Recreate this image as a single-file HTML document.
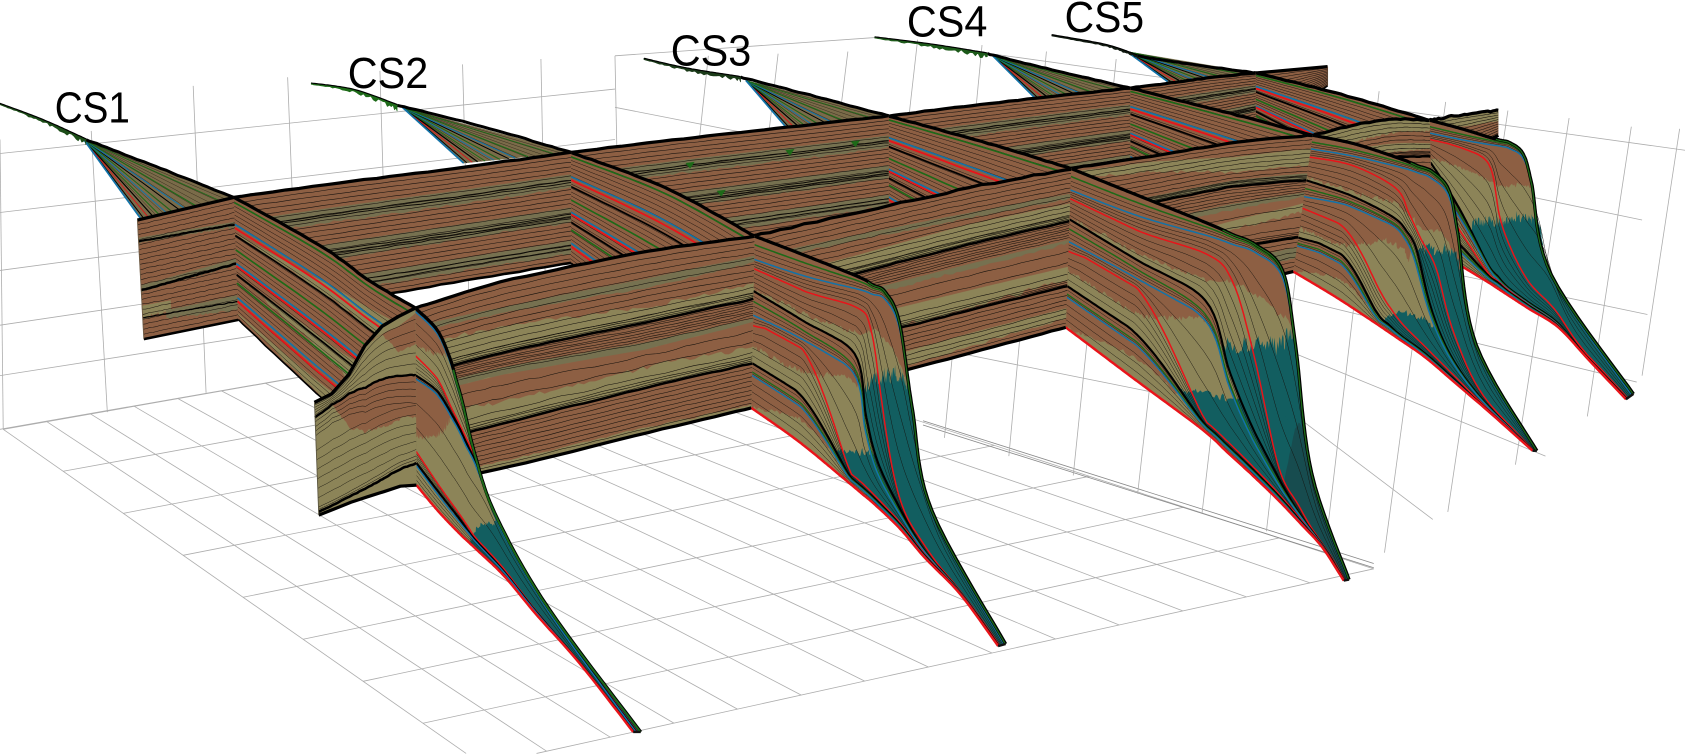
<!DOCTYPE html>
<html>
<head>
<meta charset="utf-8">
<style>
html,body{margin:0;padding:0;background:#fff;width:1685px;height:756px;overflow:hidden}
svg{display:block;position:absolute;left:0;top:0;overflow:hidden}
text{font-family:"Liberation Sans",sans-serif;font-size:41px;fill:#000}
</style>
</head>
<body>
<svg id="s" xmlns="http://www.w3.org/2000/svg" width="1685" height="756" viewBox="0 0 1570 704.4"><g id="g"></g>
<text x="51" y="114" textLength="70" lengthAdjust="spacingAndGlyphs">CS1</text>
<text x="324" y="82" textLength="75" lengthAdjust="spacingAndGlyphs">CS2</text>
<text x="625" y="61" textLength="75" lengthAdjust="spacingAndGlyphs">CS3</text>
<text x="845" y="34" textLength="75" lengthAdjust="spacingAndGlyphs">CS4</text>
<text x="992" y="30" textLength="74" lengthAdjust="spacingAndGlyphs">CS5</text>
</svg>
<script>
var BROWN='#8d5f43',OLIVE='#8c8458',DARK='#767150',TEAL='#125e60',DTEAL='#174c4f',GREEN='#1d6a18',BLUE='#1273a9',RED='#e8141a',BL='#000';
var out='';
function rnd(i){var x=Math.sin(i*12.9898+4.1)*43758.5453;return x-Math.floor(x);}
function nz(x){var a=Math.floor(x),b=a+1,t=x-a;return rnd(a)*(1-t)+rnd(b)*t-.5;}
function lin(arr,u,U){
  var n=arr.length;if(n==1)return arr[0];
  if(!U){var p=Math.min(u*(n-1),n-1.0001),i=Math.floor(p);return arr[i]+(arr[i+1]-arr[i])*(p-i);}
  for(var j=0;j<n-2&&u>U[j+1];j++);
  var t=(u-U[j])/(U[j+1]-U[j]);t=Math.max(0,Math.min(1,t));
  var a=arr[Math.max(j-1,0)],b=arr[j],c=arr[j+1],d=arr[Math.min(j+2,n-1)];
  var v=.5*(2*b+(c-a)*t+(2*a-5*b+4*c-d)*t*t+(3*b-a-3*c+d)*t*t*t);
  return Math.max(Math.min(b,c),Math.min(Math.max(b,c),v));
}
function cr(P,u,U){
  var n=P.length;
  if(n==2)return [P[0][0]+(P[1][0]-P[0][0])*u,P[0][1]+(P[1][1]-P[0][1])*u];
  var j=0;
  if(U){for(j=0;j<n-2&&u>U[j+1];j++);}else{j=Math.min(Math.floor(u*(n-1)),n-2);}
  var t=U?(u-U[j])/(U[j+1]-U[j]):(u*(n-1)-j);
  var a=P[Math.max(j-1,0)],b=P[j],c=P[j+1],d=P[Math.min(j+2,n-1)],r=[];
  for(var k=0;k<2;k++){
    r[k]=.5*(2*b[k]+(c[k]-a[k])*t+(2*a[k]-5*b[k]+4*c[k]-d[k])*t*t+(3*b[k]-a[k]-3*c[k]+d[k])*t*t*t);
  }
  return r;
}
function pt(p,u,f){
  var a=cr(p.T,u,p.U),b=cr(p.B,u,p.U);
  return [a[0]+(b[0]-a[0])*f,a[1]+(b[1]-a[1])*f];
}
function F(p,arr,u){return typeof arr=='number'?arr:lin(arr,u,arr.length==(p.U||[]).length?p.U:null);}
function fmt(q){return q[0].toFixed(1)+' '+q[1].toFixed(1);}
var seed=1;
function band(p,f0,f1,col,amp,N,u0,u1){
  N=N||90;amp=amp||0;u0=u0||0;if(u1===undefined)u1=1;var s=seed+=7.3,a=[],b=[];
  for(var i=0;i<=N;i++){
    var u=u0+(u1-u0)*i/N;
    var v0=F(p,f0,u),v1=F(p,f1,u)+amp*(nz(s+i*.9)+.6*nz(s+i*2.3+9));
    v1=Math.max(v0,Math.min(1,v1));
    a.push(fmt(pt(p,u,v0)));b.push(fmt(pt(p,u,v1)));
  }
  out+='<path d="M'+a.join('L')+'L'+b.reverse().join('L')+'Z" fill="'+col+'" stroke="'+col+'" stroke-width=".3"/>';
}
function tband(p,f0,f1,col,amp,N,u0,u1){
  var s=seed+=5.7,a=[],b=[];
  for(var i=0;i<=N;i++){
    var u=u0+(u1-u0)*i/N;
    var v1=F(p,f1,u),v0=F(p,f0,u)+amp*(rnd(s+i)-.5+.7*nz(s+i*.35));
    v0=Math.max(0,Math.min(v1,v0));
    a.push(fmt(pt(p,u,v0)));b.push(fmt(pt(p,u,v1)));
  }
  out+='<path d="M'+a.join('L')+'L'+b.reverse().join('L')+'Z" fill="'+col+'"/>';
}
function line(p,f,col,w,amp,N,u0,u1){
  N=N||60;amp=amp||0;u0=u0||0;if(u1===undefined)u1=1;var s=seed+=3.1,a=[];
  for(var i=0;i<=N;i++){
    var u=u0+(u1-u0)*i/N;
    var v=F(p,f,u)+amp*nz(s+i*.8);
    a.push(fmt(pt(p,u,Math.max(0,Math.min(1,v)))));
  }
  out+='<path d="M'+a.join('L')+'" fill="none" stroke="'+col+'" stroke-width="'+w+'" stroke-linejoin="round"/>';
}
function poly(P,col,w,fill){
  out+='<path d="M'+P.map(fmt).join('L')+(fill?'Z':'')+'" fill="'+(fill||'none')+'" stroke="'+col+'" stroke-width="'+w+'" stroke-linejoin="round"/>';
}
/* ---------- grid ---------- */
var GR='#adadad';
function gl(a,b,c){
  a=a.slice();b=b.slice();var M=702;
  if(a[1]>M&&b[1]>M)return;
  if(a[1]>M){var t=(M-b[1])/(a[1]-b[1]);a=[b[0]+(a[0]-b[0])*t,M];}
  if(b[1]>M){var t2=(M-a[1])/(b[1]-a[1]);b=[a[0]+(b[0]-a[0])*t2,M];}
  out+='<line x1="'+a[0].toFixed(1)+'" y1="'+a[1].toFixed(1)+'" x2="'+b[0].toFixed(1)+'" y2="'+b[1].toFixed(1)+'" stroke="'+(c||GR)+'" stroke-width=".75"/>';
}
function mix(a,b,t){return [a[0]+(b[0]-a[0])*t,a[1]+(b[1]-a[1])*t];}
(function(){
  var i;
  var y0=[143,198,252,303,350,400],y1=[83,130,175,218,260,300];
  for(i=0;i<6;i++)gl([0,y0[i]],[573,y1[i]]);
  var vx=[[3,400,0,130],[85,122,100,384],[180,80,192,366],[268,72,279,349],[354,66,362,334],[431,60,438,320],[504,55,509,310],[573,52,578,298]];
  vx.forEach(function(v){gl([v[0],v[1]],[v[2],v[3]]);});
  gl([573,52],[815,35]);
  var A=[3,400],B=[573,300],C=[1280,530],D=[450,713];
  var n1=14,n2=8;
  for(i=0;i<=n1;i++){gl(mix(A,B,i/n1),mix(D,C,i/n1));}
  for(i=0;i<=n2;i++){var t=i/n2;gl(mix(A,D,t),mix(B,C,t));}
  gl([860,392],[1280,525],'#888');gl([860,396],[1280,529],'#888');
  gl([815,35],[1570,140]);
  gl([573,100],[1200,223]);gl([1200,223],[1535,293]);
  gl([573,150],[1200,277]);gl([1200,277],[1525,356]);
  gl([573,200],[1208,330]);gl([1208,330],[1440,425]);
  gl([700,290],[1216,394]);gl([1216,394],[1335,484]);
  gl([1410,180],[1530,205]);
  var V=[[1530,350,1565,120],[1479,388,1520,118],[1412,433,1462,110],[1349,477,1405,103],[1290,515,1347,95],[1235,510,1285,85],[1180,495,1228,75],[1120,478,1168,68],[1060,460,1105,60],[1000,443,1040,55],[940,425,975,48],[880,408,915,42],[815,390,855,37],[750,370,790,48],[690,350,725,50],[630,330,660,52]];
  V.forEach(function(v){gl([v[0],v[1]],[v[2],v[3]]);});
})();
/* ---------- back wedges ---------- */
function gl2(a,b,c,w){out+='<line x1="'+a[0]+'" y1="'+a[1]+'" x2="'+b[0]+'" y2="'+b[1]+'" stroke="'+c+'" stroke-width="'+w+'"/>';}
function sample(P,a0){var a=[],A0=a0===undefined?.8:a0;for(var i=0;i<=28;i++){var q=cr(P,i/28);a.push([q[0],q[1]+A0*nz(i*1.7+P[0][0])]);}return a;}
function wedge(L,apex,e0,e1,tc,sd,tw){
  poly([apex,L[L.length-1],e1,e0],'#6e6a46',.3,'#7a6b49');
  for(var i=1;i<12;i++)gl2(apex,mix(e0,e1,i/12),'#211a10',.35);
  var sets=[[.03,BL,.9],[.08,RED,.8],[.13,BL,1.1],[.2,GREEN,.9],[.28,BLUE,.9],[.34,GREEN,.9],[.42,BL,.9],[.48,BLUE,1],[.6,GREEN,1],[.85,GREEN,.8]];
  sets.forEach(function(s){gl2(apex,mix(e0,e1,s[0]),s[1],s[2]);});
  gl2(apex,e0,BLUE,1.6);
  poly(sample(L.slice(2)),'#000',2.8);
  var tail=L.slice(0,3),pts=[],pts2=[];
  for(i=0;i<=40;i++){
    var t=i/40,q=cr(tail,t),w=.5+tw*rnd(i+sd)*t;
    pts.push([q[0],q[1]-.7]);pts2.push([q[0],q[1]+w]);
  }
  poly(pts.concat(pts2.reverse()),tc,.6,tc);
  poly(pts,'#000',1.1);
}
wedge([[0,97],[40,112],[80,130],[150,157],[218,184]],[78,130],[132,205],[218,184],'#1c4d18',11,5);
wedge([[290,78],[330,84],[370,98],[450,118],[532,142]],[375,100],[432,152],[532,142],GREEN,23,5);
wedge([[600,55],[640,64],[690,72],[760,90],[828,108]],[695,75],[738,125],[828,108],'#1a3a18',37,4);
wedge([[815,35],[870,42],[920,50],[980,65],[1053,82]],[925,52],[965,92],[1053,82],'#1d5a1a',41,5);
wedge([[980,33],[1030,42],[1060,52],[1110,60],[1170,68]],[1050,48],[1088,76],[1170,68],'#101a10',53,2);
/* ---------- rear fence & mid panels ---------- */
function rear(T,B){
  var p={T:T,B:B};
  band(p,0,1,BROWN);
  band(p,.2,.32,DARK,.022);
  band(p,.5,.63,DARK,.022);
  band(p,.8,.91,DARK,.022);
  for(var i=1;i<24;i++)line(p,i/24+.004,'#1a1410',.55,.006,40);
  [.25,.27,.56,.58,.6,.84,.87].forEach(function(f){line(p,f,'#0c0a06',.85,.01,40);});
  poly(sample(T),'#000',3);
  poly(sample(B),'#000',2.4);
  return p;
}
var midKeys=[[.04,GREEN,1.5],[.22,BLUE,1.5],[.25,RED,1.7],[.31,BL,1.6],[.43,GREEN,1.5],[.54,BLUE,1.5],[.56,RED,1.7],[.63,BL,1.6],[.7,GREEN,1.5],[.82,BLUE,1.5],[.85,RED,1.7]];
function mid(T,B,olive){
  var p={T:T,B:B};
  band(p,0,1,BROWN);
  if(olive){
    band(p,[.3,.2,.13],[.3,.3,.3],OLIVE,.02,60);
    band(p,[.63,.6,.5],[.63,.72,.8],OLIVE,.03,60);
    band(p,[.95,.9,.85],[.95,1,1],OLIVE,.02,60);
  }
  for(var i=1;i<28;i++)line(p,i/28,'#1a1410',.45,.003,24);
  midKeys.forEach(function(k){line(p,k[0],k[1],k[2],.002,24);});
  poly(sample(T),'#000',3);
  poly(sample(B),'#000',1.5);
}
var RS=[
 [[[1170,68],[1237,62]],[[1170,125],[1237,80]]],
 [[[1053,82],[1092,77],[1131,72],[1170,68]],[[1053,160],[1092,148],[1131,137],[1170,125]]],
 [[[828,108],[900,99],[980,90],[1053,82]],[[828,200],[900,187],[980,172],[1053,160]]],
 [[[532,142],[630,130],[730,119],[828,108]],[[532,245],[630,230],[730,215],[828,200]]],
 [[[218,184],[320,170],[430,156],[532,142]],[[222,298],[325,280],[430,262],[532,245]]]
];
var MS=[
 [[[1170,68],[1250,88],[1332,112]],[[1170,125],[1250,178],[1335,232]],false],
 [[[1053,82],[1140,104],[1223,126]],[[1053,160],[1135,208],[1205,253]],false],
 [[[828,108],[915,132],[998,157]],[[828,200],[910,255],[993,305]],false],
 [[[532,142],[620,175],[703,220]],[[532,245],[620,315],[700,380]],false],
 [[[218,184],[300,230],[345,262],[387,287]],[[222,298],[290,362],[340,405],[388,452]],true]
];
(function(){
  var p={T:RS[0][0],B:RS[0][1]};
  band(p,0,1,BROWN);
  for(var i=1;i<14;i++)line(p,i/14,'#1a1410',.5,.01,20);
  poly(RS[0][0],'#000',3);poly(RS[0][1],'#000',1.5);
  poly([[1237,62],[1237,80]],'#5a4230',.8);
})();
mid(MS[0][0],MS[0][1],false);
for(var ii=1;ii<5;ii++){
  rear(RS[ii][0],RS[ii][1]);
  if(ii==3){[[736,142],[797,134],[672,180],[643,154]].forEach(function(g){poly([[g[0]-4,g[1]-2],[g[0]+4,g[1]-3],[g[0],g[1]+3]],GREEN,.3,GREEN);});}
  if(ii<4)mid(MS[ii][0],MS[ii][1],MS[ii][2]);
}
(function(){
  var T=[[128,205],[218,184]],B=[[134,316],[222,298]],p={T:T,B:B};
  band(p,0,1,BROWN);
  band(p,[.15,.2],[.19,.24],DARK,.015);
  band(p,[.55,.5],[.6,.55],DARK,.015);
  band(p,[.72,.74],[.82,.8],OLIVE,.04,40,0,.3);
  band(p,[.8,.8],[.85,.92],DARK,.025,40,.25,1);
  for(var i=1;i<24;i++)line(p,i/24,'#1a1410',.5,.008,30);
  line(p,[.18,.22],BL,2,.006);line(p,[.59,.54],BL,2.4,.006);line(p,[.82,.85],BL,1.2,.006);
  poly(T,'#000',3);poly(B,'#000',2.4);
  poly([[128,205],[134,316]],'#6d5a44',.8);
})();
mid(MS[4][0],MS[4][1],MS[4][2]);
/* ---------- front ---------- */
var U=[0,.25,.5,.58,.65,.75,.85,.93,1];
var KA={
 G1:[.05,.04,.02,.015,.012,.012,.012,.012,.1],
 B1:[.135,.11,.06,.045,.035,.03,.03,.05,.2],
 R1:[.19,.19,.15,.21,.47,.85,.91,.94,.8],
 K1:[.32,.35,.375,.63,.79,.9,.95,.96,.9],
 G2:[.38,.4,.44,.68,.83,.92,.955,.965,.92],
 B2:[.46,.45,.47,.7,.84,.93,.96,.97,.93],
 R2:[.52,.5,.93,.95,.96,.97,.975,.98,.93],
 K2:[.74,.75,.96,.97,.975,.98,.985,.99,.96],
 G3:[.79,.79,.97,.975,.98,.985,.99,.992,.97],
 B3:[.81,.81,.975,.98,.985,.99,.992,.995,.98]
};
var KB={
 G1:[.05,.04,.02,.015,.012,.012,.012,.012,.1],
 B1:[.1,.08,.05,.04,.04,.03,.03,.05,.2],
 R1:[.16,.14,.18,.29,.39,.49,.7,.85,.8],
 K1:[.33,.33,.35,.39,.48,.72,.87,.92,.9],
 G2:[.39,.37,.38,.42,.52,.74,.88,.93,.91],
 B2:[.45,.4,.4,.44,.54,.76,.89,.94,.92],
 R2:[.535,.55,.8,.87,.91,.945,.96,.97,.93],
 K2:[.75,.72,.93,.96,.975,.98,.985,.99,.96],
 G3:[.79,.76,.95,.97,.98,.985,.99,.992,.97],
 B3:[.81,.78,.96,.975,.985,.99,.992,.995,.98]
};
var KC={
 G1:[.05,.04,.02,.015,.012,.012,.012,.012,.1],
 B1:[.1,.08,.05,.04,.04,.03,.03,.05,.2],
 R1:[.15,.14,.19,.5,.66,.82,.88,.92,.8],
 K1:[.33,.6,.87,.92,.95,.96,.97,.98,.9],
 G2:[.39,.63,.88,.93,.955,.965,.975,.985,.92],
 B2:[.45,.66,.89,.94,.96,.97,.98,.988,.93],
 R2:[.535,.75,.93,.95,.965,.975,.985,.99,.94],
 K2:[.75,.85,.95,.96,.975,.98,.99,.992,.96],
 G3:[.79,.88,.96,.97,.98,.985,.992,.994,.97],
 B3:[.81,.9,.97,.975,.985,.99,.994,.996,.98]
};
var KD={
 G1:[.01,.01,.01,.01,.01,.012,.02,.02,.1],
 B1:[.02,.02,.025,.03,.03,.04,.06,.1,.2],
 R1:[.27,.27,.30,.27,.24,.12,.1,.2,.5],
 K1:[.38,.34,.335,.3,.28,.16,.16,.3,.6],
 G2:[.39,.35,.345,.31,.29,.17,.18,.32,.62],
 B2:[.40,.36,.36,.33,.31,.19,.2,.35,.65],
 R2:[.81,.85,.88,.9,.92,.92,.93,.95,.9],
 K2:[.875,.89,.91,.93,.94,.95,.95,.96,.92],
 G3:[.88,.9,.92,.935,.945,.955,.955,.965,.93],
 B3:[.89,.91,.93,.94,.95,.96,.96,.97,.95]
};
function ins(A){
  var a=A[2],b=A[3],t=.5333;
  return A.slice(0,3).concat([[a[0]+(b[0]-a[0])*t,a[1]+(b[1]-a[1])*t]],A.slice(3));
}
function front(T,B,o){
  T=ins(T);B=ins(B);
  var p={T:T,B:B,U:U},K=o.key;
  band(p,0,1,OLIVE);
  band(p,0,o.b1,BROWN,.03,130);
  if(o.b2)band(p,K.K1,o.b2,BROWN,.035,120,0,.62);
  if(o.b3)band(p,K.K2,o.b3,BROWN,.025,70,0,.5);
  if(o.t1)tband(p,o.t1,K.K1,TEAL,.07,170,.35,1);
  if(o.t2)tband(p,o.t2,K.K2,TEAL,.03,130,.35,1);
  if(o.t)tband(p,o.t,1,TEAL,.04,120,.4,1);
  if(!o.t)band(p,K.K2,1,TEAL,0,40,.65,1);
  if(o.dt)tband(p,o.dt,1,DTEAL,.015,40,.78,1);
  var order=[0,K.G1,K.B1,K.R1,K.K1,K.G2,K.B2,K.R2,K.K2,K.G3,K.B3,1];
  var cnt=[0,2,3,4,1,2,2,4,1,1,3];
  function mk(a,b,m){return U.map(function(u,i){var x=typeof a=='number'?a:a[i],y=typeof b=='number'?b:b[i];return x+(y-x)*m;});}
  for(var i=1;i<order.length-1;i++){
    var c=cnt[i];
    for(var j=1;j<=c;j++)line(p,mk(order[i],order[i+1],j/(c+1)),'#14110c',.42,.0015,70);
  }
  var C=[[GREEN,K.G1,1.4],[BLUE,K.B1,1.4],[RED,K.R1,1.4],[BL,K.K1,2],[GREEN,K.G2,1.3],[BLUE,K.B2,1.4],[RED,K.R2,1.4],[BL,K.K2,2],[GREEN,K.G3,1.2],[BLUE,K.B3,1.3]];
  var skip=o.skip||[];
  C.forEach(function(c,n){if(skip.indexOf(n)<0)line(p,c[1],c[0],c[2],0,110);});
  var a=[],m;for(m=0;m<=130;m++)a.push(cr(T,m/130,U));
  poly(a,'#000',3);
  var g=[];for(m=70;m<=130;m++){var q=cr(T,m/130,U);g.push([q[0]-.2,q[1]+.3]);}
  poly(g,GREEN,o.gw||1.2);
  var bb=[];for(m=0;m<=130;m++)bb.push(cr(B,m/130,U));
  poly(bb,RED,2.3);
  gl2(T[T.length-1],B[B.length-1],'#111',2.2);
}
function strike(T,B,base,bands,blacks,zones,tn){
  var p={T:T,B:B};
  band(p,0,1,base);
  bands.forEach(function(b){band(p,b[0],b[1],b[2],b[3]===undefined?.015:b[3],80);});
  (zones||[]).forEach(function(z){
    for(var j=1;j<=z[2];j++){
      var m=j/(z[2]+1),f=[];
      for(var k=0;k<=8;k++){var u=k/8,a=F(p,z[0],u),b=F(p,z[1],u);f.push(a+(b-a)*m);}
      line(p,f,'#14110c',.5,z[3]===undefined?.007:z[3],40);
    }
  });
  blacks.forEach(function(k){
    line(p,k,BL,2.4,.005,40);
    for(var j=1;j<=3;j++){line(p,k.map(function(x){return x-j*.012;}),'#0c0a06',.5,.005,30);}
  });
  poly(sample(T,tn===undefined?.8:tn),'#000',3);
  poly(sample(B,.5),'#000',3);
}
strike([[1332,112],[1362,107],[1396,103]],[[1335,150],[1365,142],[1396,126]],BROWN,[[0,[.22,.3,.42],OLIVE,.03]],[],[[0,1,10]],1.6);
front([[1332,112],[1362,120],[1388,128],[1407,133],[1419,143],[1427,170],[1445,255],[1522,367]],
      [[1335,232],[1360,247],[1385,262],[1405,275],[1425,288],[1452,305],[1480,335],[1515,372]],
      {key:KC,b1:[.3,.28,.3,.3,.28,.2,.1,0,0],b2:[.33,.7,.87,.92,.95,.96,.97,.98,.9],
       t1:[1,.72,.58,.54,.5,.41,.3,0,0],t2:null,skip:[]});
strike([[1223,126],[1265,116],[1300,111],[1332,112]],[[1205,253],[1250,245],[1295,238],[1335,232]],BROWN,
  [[0,[.12,.12,.1,.08],OLIVE,.02],[[.16,.18,.18,.18],[.28,.26,.24,.22],OLIVE,.02],[[.55,.62,.66,.7],[.68,.72,.76,.8],OLIVE,.03]],
  [[.32,.3,.28,.28],[.62,.62,.66,.7]],[[0,[.32,.3,.28,.28],8],[[.32,.3,.28,.28],[.62,.62,.66,.7],8],[[.62,.62,.66,.7],1,4]],1.2);
front([[1223,126],[1262,134],[1305,148],[1335,160],[1350,177],[1358,215],[1375,320],[1432,420]],
      [[1205,253],[1245,277],[1280,300],[1305,317],[1328,333],[1355,356],[1390,386],[1428,420]],
      {key:KB,b1:[.31,.31,.27,.3,.33,.27,.2,0,0],b2:[.68,.66,.5,.5,.6,.72,.87,.92,.9],b3:[1,.88,.95,.96,.975,.98,.985,.99,.96],
       t1:[1,1,1,.6,.46,.36,.18,0,0],t2:[1,1,1,.9,.84,.8,.8,.8,.8]});
strike([[998,157],[1075,145],[1150,133],[1223,126]],[[993,305],[1065,287],[1140,270],[1205,253]],BROWN,
  [[[.02,.04,.1,.1],[.06,.1,.2,.22],OLIVE,.02],[[.27,.27,.26,.28],[.33,.31,.3,.33],DARK],[[.62,.58,.54,.5],[.7,.66,.6,.56],OLIVE,.025],[[.44,.44,.42,.42],[.48,.47,.46,.45],DARK],[[.86,.84,.82,.82],[.94,.93,.9,.9],DARK]],
  [[.33,.31,.3,.33],[.74,.73,.72,.75]],[[0,[.33,.31,.3,.33],9],[[.33,.31,.3,.33],[.46,.46,.45,.45],6],[[.46,.46,.45,.45],[.74,.73,.72,.75],3],[[.74,.73,.72,.75],1,6]],1.2);
front([[998,157],[1060,182],[1125,208],[1170,228],[1195,252],[1207,320],[1222,440],[1257,540]],
      [[993,305],[1058,354],[1120,400],[1165,441],[1190,465],[1211,487],[1232,510],[1252,541]],
      {key:KA,b1:[.31,.31,.27,.22,.21,.2,0,0,0],b2:[.64,.64,.47,.63,.7,.8,.9,.9,.9],b3:[1,.88,.96,.97,.975,.98,.985,.99,.96],
       t1:[1,1,.58,.51,.43,.32,0,0,0],t2:[1,1,.82,.75,.66,.6,.6,.6,.6],dt:[1,1,1,1,1,1,.45,.1,0]});
strike([[703,220],[800,198],[900,176],[998,157]],[[700,380],[800,356],[900,330],[993,305]],BROWN,
  [[[.27,.25,.22,.22],[.365,.355,.34,.33],OLIVE,.02],[[.12,.13,.15,.16],[.15,.16,.18,.19],DARK],[[.48,.47,.46,.45],[.52,.5,.49,.47],DARK],[[.64,.62,.62,.62],[.74,.74,.72,.7],OLIVE,.03],[[.9,.9,.88,.88],[1,.98,.96,.94],OLIVE,.015]],
  [[.365,.355,.34,.33],[.74,.74,.74,.74]],[[0,[.365,.355,.34,.33],10],[[.365,.355,.34,.33],[.48,.47,.46,.45],7],[[.48,.47,.46,.45],[.74,.74,.74,.74],3],[[.74,.74,.74,.74],1,8]],2.2);
front([[703,220],[750,238],[800,258],[825,272],[838,300],[850,380],[868,475],[937,600]],
      [[700,380],[745,412],[790,449],[815,470],[838,492],[862,520],[895,554],[930,602]],
      {key:KA,b1:[.31,.31,.27,.22,.21,.2,0,0,0],b2:[.64,.62,.5,.63,.7,.8,.9,.9,.9],b3:[1,.88,.96,.97,.975,.98,.985,.99,.96],
       t1:[1,1,.6,.48,.4,.26,0,0,0],t2:[1,1,.85,.8,.77,.75,.75,.75,.75]});
strike([[387,287],[470,262],[600,235],[703,220]],[[388,452],[469,436],[600,404],[700,380]],OLIVE,
  [[0,[.2,.24,.31,.27],BROWN,.03],[[.1,.14,.15,.115],[.13,.17,.2,.15],DARK,.01],[[.38,.38,.39,.365],[.47,.47,.51,.49],BROWN,.005],[[.46,.46,.5,.48],[.5,.5,.54,.505],DARK,.01],[[.5,.5,.54,.5],[.64,.64,.64,.64],BROWN,.03],[[.78,.76,.75,.74],[.97,.96,.97,.98],BROWN,.012]],
  [[.38,.38,.39,.365],[.78,.76,.75,.74]],[[0,[.38,.38,.39,.365],10],[[.38,.38,.39,.365],[.48,.48,.52,.49],8],[[.48,.48,.52,.49],[.78,.76,.75,.74],3,.012],[[.78,.76,.75,.74],1,9]],1);
front([[387,287],[407,307],[419,333],[431,375],[443,425],[462,480],[510,565],[597,682]],
      [[388,452],[408,476],[428,497],[445,513],[470,537],[500,573],[540,618],[590,682]],
      {key:KD,b1:[.21,.13,0,0,0,0,0,0,0],b2:[.72,.58,.34,.3,.28,.16,.16,.3,.6],
       t:[1,1,1,1,.86,.56,.12,0,0],skip:[0,4,8],gw:1.8});
(function(){
  var T=[[293,375],[309,367],[325,349],[340,322],[356,304],[371,295],[387,287]],
      B=[[297,480],[312,474],[327,468],[342,463],[358,458],[373,453],[388,452]],p={T:T,B:B};
  var K1=[.135,.09,.15,.28,.32,.35,.38],K2=[.97,.96,.95,.94,.92,.9,.875];
  band(p,0,1,OLIVE);
  band(p,[0,0,0,0,.05,.06,.03],[0,0,0,0,.05,.21,.2],BROWN,.015,60);
  band(p,K1,[.135,.09,.42,.57,.61,.61,.61],BROWN,.025,70);
  var j;
  for(j=1;j<6;j++)line(p,K1.map(function(k){return k*j/6;}),'#14110c',.45,.003,30);
  for(j=1;j<5;j++)line(p,K1.map(function(k){return k+j*.04;}),'#14110c',.45,.004,30);
  for(j=1;j<7;j++)line(p,K1.map(function(k,i){return k+(K2[i]-k)*(.25+j*.1);}),'#1a1710',.42,.006,30);
  for(j=1;j<3;j++)line(p,K2.map(function(k){return k-j*.02;}),'#14110c',.45,.003,30);
  line(p,K1,BL,2.2,.004);
  line(p,K2,BL,2.4,.004);
  poly(T,'#000',3.2);poly(B,'#000',3);
  gl2(T[0],B[0],'#5a5540',.8);
})();
document.getElementById('g').innerHTML=out;
</script>
</body>
</html>
